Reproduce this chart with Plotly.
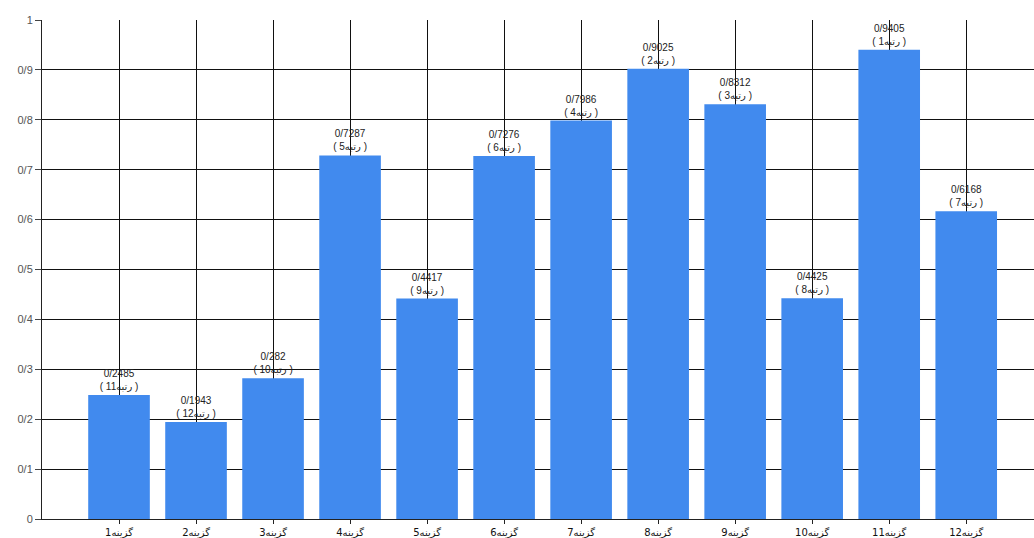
import plotly.graph_objects as go

categories = ["گزینه1", "گزینه2", "گزینه3", "گزینه4", "گزینه5", "گزینه6",
              "گزینه7", "گزینه8", "گزینه9", "گزینه10", "گزینه11", "گزینه12"]
values = [0.2485, 0.1943, 0.282, 0.7287, 0.4417, 0.7276,
          0.7986, 0.9025, 0.8312, 0.4425, 0.9405, 0.6168]
value_labels = ["0/2485", "0/1943", "0/282", "0/7287", "0/4417", "0/7276",
                "0/7986", "0/9025", "0/8312", "0/4425", "0/9405", "0/6168"]
ranks = [11, 12, 10, 5, 9, 6, 4, 2, 3, 8, 1, 7]
y_tick_vals = [0, 0.1, 0.2, 0.3, 0.4, 0.5, 0.6, 0.7, 0.8, 0.9, 1]
y_tick_text = ["0", "0/1", "0/2", "0/3", "0/4", "0/5", "0/6", "0/7", "0/8", "0/9", "1"]

x_pos = list(range(1, len(categories) + 1))
texts = [f"{v}<br>( رتبه{r} )" for v, r in zip(value_labels, ranks)]

fig = go.Figure(go.Bar(
    x=x_pos, y=values, width=0.8,
    marker=dict(color="#418AEE", line=dict(width=0)),
    text=texts, textposition="outside", cliponaxis=False,
    textfont=dict(family="Liberation Sans, DejaVu Sans", size=10, color="#222"),
    hoverinfo="skip",
))

fig.update_layout(
    width=1034, height=538,
    margin=dict(l=42, r=0, t=20, b=19),
    paper_bgcolor="white", plot_bgcolor="white",
    showlegend=False,
    bargap=0.2,
    uniformtext=dict(minsize=10, mode="show"),
)
fig.update_xaxes(
    range=[0, 12.88], tickvals=x_pos, ticktext=categories,
    showgrid=True, gridcolor="#111", gridwidth=1,
    ticks="outside", ticklen=4, tickcolor="#222",
    showline=True, linecolor="#222", linewidth=1,
    tickfont=dict(family="DejaVu Sans, Liberation Sans", size=10, color="#111"),
    zeroline=False,
)
fig.update_yaxes(
    range=[0, 1], tickvals=y_tick_vals, ticktext=y_tick_text,
    showgrid=True, gridcolor="#111", gridwidth=1,
    ticks="outside", ticklen=6, tickcolor="#444",
    showline=True, linecolor="#222", linewidth=1,
    tickfont=dict(family="Liberation Sans, DejaVu Sans", size=11, color="#555"),
    zeroline=False,
)

fig.write_html("out.html", config={"displayModeBar": False},
               post_script="document.body.style.margin='0';")
